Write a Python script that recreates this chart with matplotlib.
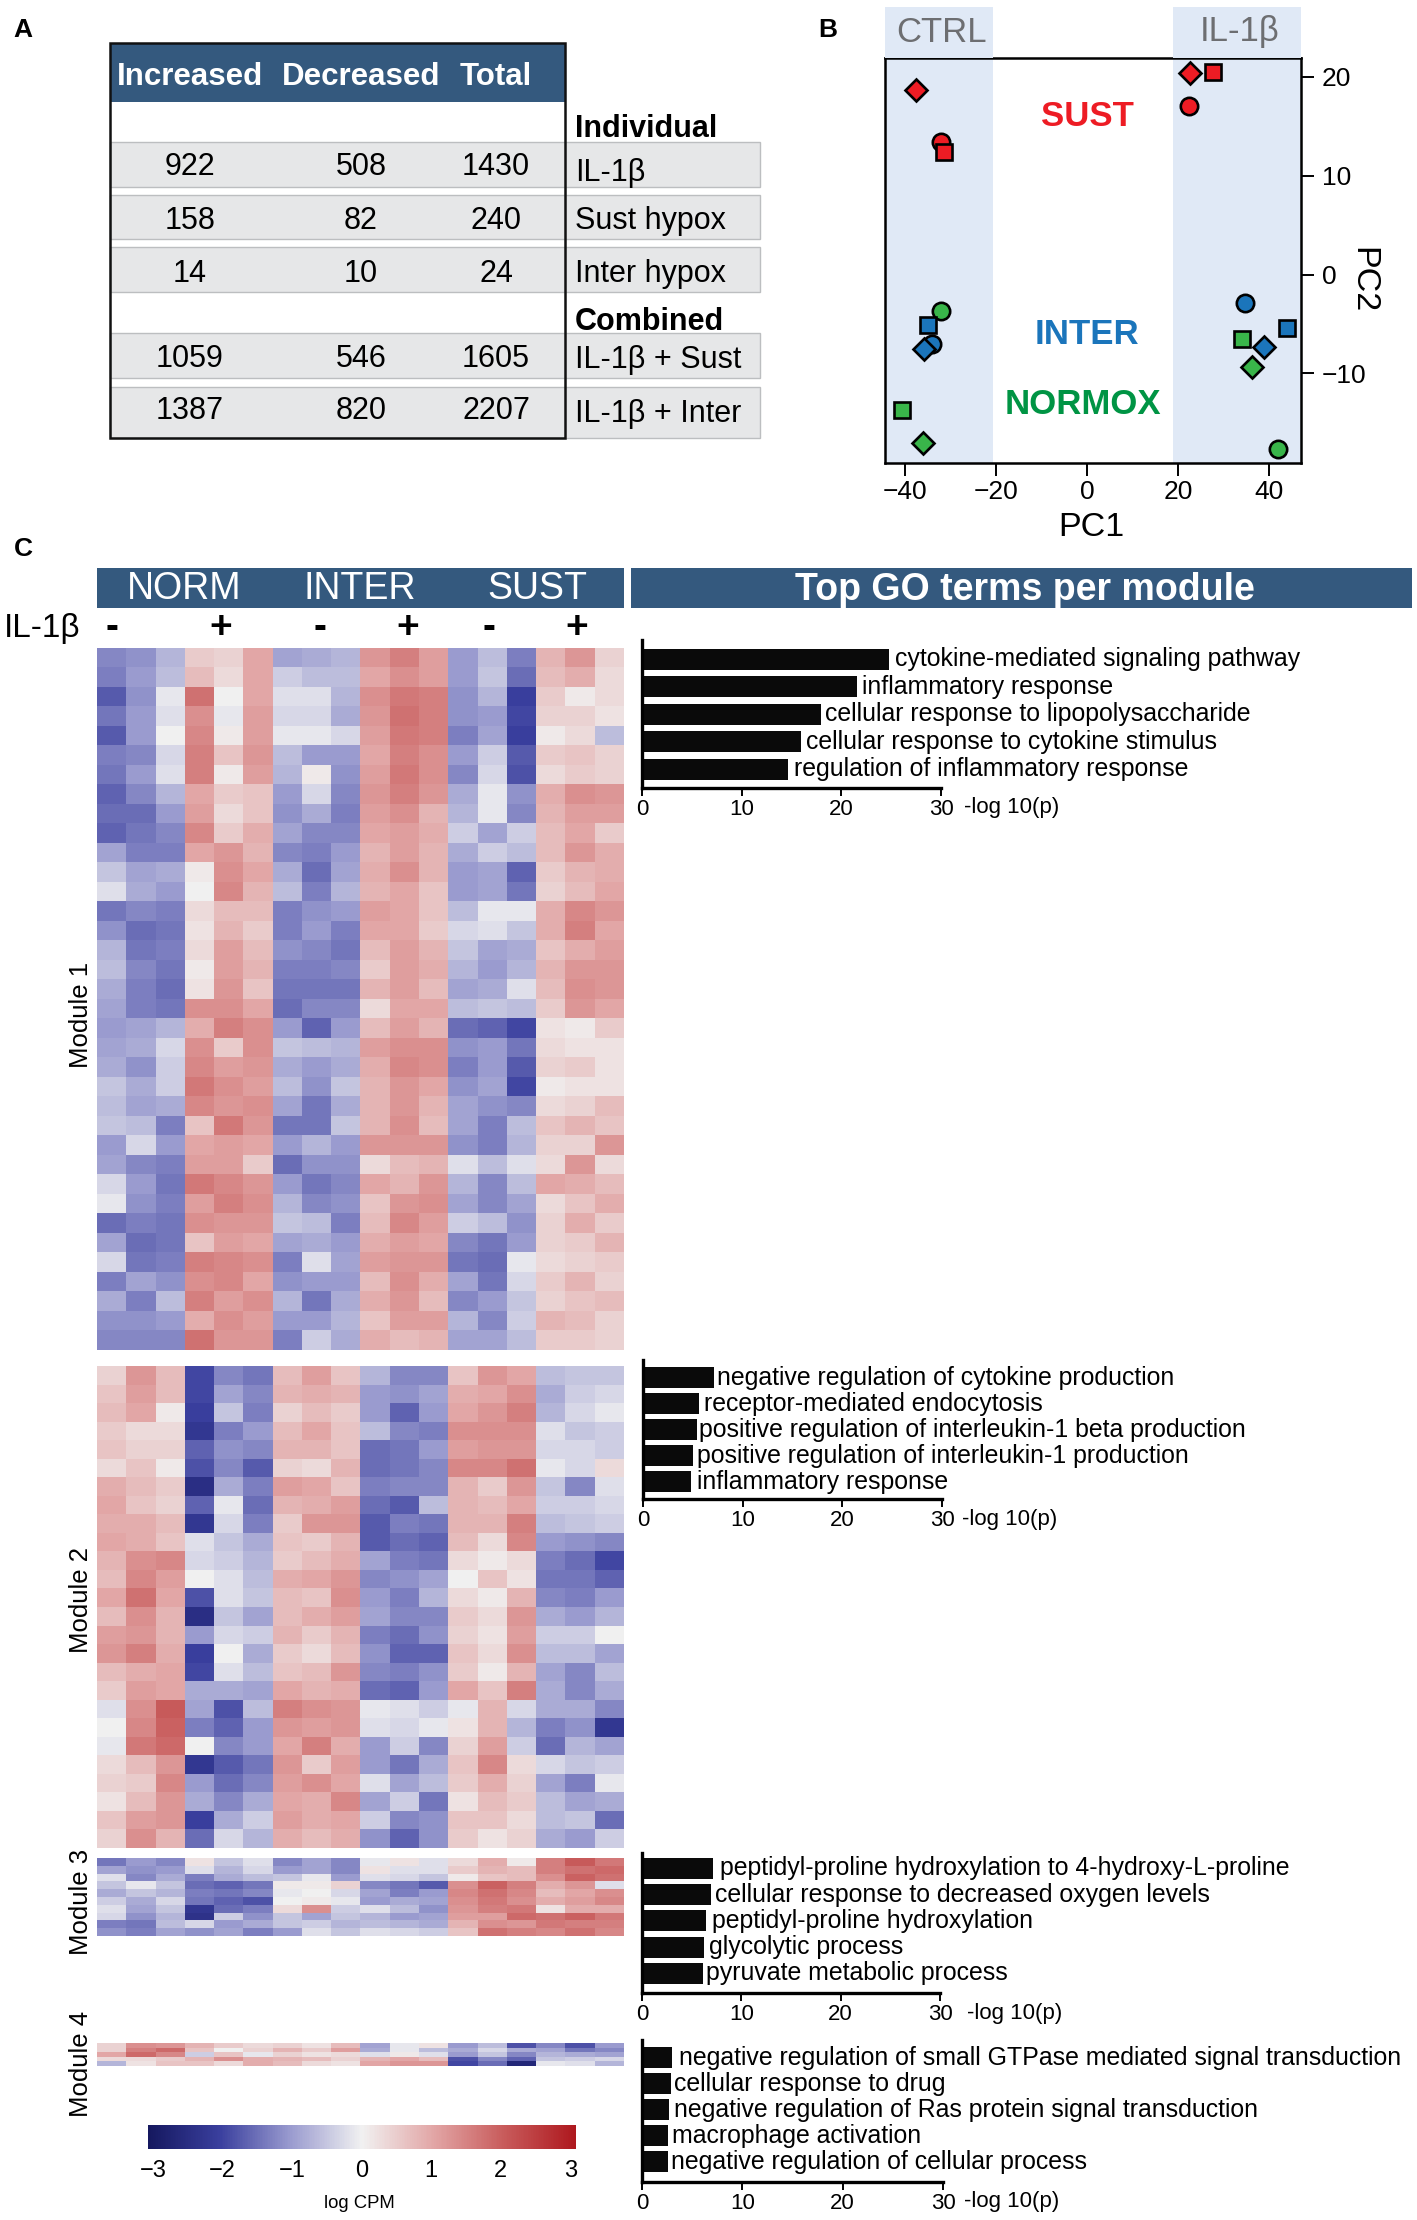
import matplotlib
matplotlib.use("Agg")
import numpy as np
import matplotlib.pyplot as plt
from matplotlib.patches import Rectangle
from matplotlib.colors import LinearSegmentedColormap, Normalize
from matplotlib.cm import ScalarMappable

plt.rcParams['font.family'] = ['Liberation Sans', 'DejaVu Sans']

W, H = 1417, 2220
NAVY = '#34597e'

# ---------- Panel A ----------
table_cols = ['Increased', 'Decreased', 'Total']
table_rows = ['IL-1β', 'Sust hypox', 'Inter hypox', 'IL-1β + Sust', 'IL-1β + Inter']
table_increased = [922, 158, 14, 1059, 1387]
table_decreased = [508, 82, 10, 546, 820]
table_total = [1430, 240, 24, 1605, 2207]

# ---------- Panel B ----------
sust_pc1 = [-37.5, -32.2, -31.4, 22.6, 27.6, 22.3]
sust_pc2 = [18.66, 13.36, 12.35, 20.4, 20.5, 17.0]
inter_pc1 = [-35.9, -34.1, -35.0, 38.9, 34.7, 44.0]
inter_pc2 = [-7.55, -7.0, -5.1, -7.3, -2.9, -5.4]
norm_pc1 = [-36.1, -32.0, -40.7, 36.2, 42.0, 34.0]
norm_pc2 = [-17.04, -3.65, -13.65, -9.35, -17.65, -6.5]
sust_mk = ['D', 'o', 's', 'D', 's', 'o']
inter_mk = ['D', 'o', 's', 'D', 'o', 's']
norm_mk = ['D', 'o', 's', 'D', 'o', 's']

# ---------- Panel C heat maps (log CPM, read by eye, band by band) ----------
module1 = [
 [-1.2,-1.1,-0.7, 0.5, 0.4, 1.0,-0.9,-0.8,-0.7, 1.2, 1.5, 1.1,-1.0,-0.6,-1.3, 0.8, 1.2, 0.4],
 [-1.3,-1.0,-0.6, 0.7, 0.3, 1.0,-0.4,-0.6,-0.6, 1.0, 1.3, 1.1,-1.0,-0.5,-1.5, 0.7, 0.9, 0.3],
 [-1.7,-1.1,-0.1, 1.7, 0.0, 1.0,-0.2,-0.2,-0.7, 1.3, 1.6, 1.5,-1.1,-0.7,-2.0, 0.5, 0.1, 0.3],
 [-1.4,-1.0,-0.2, 1.3,-0.1, 1.1,-0.3,-0.3,-0.8, 1.2, 1.7, 1.5,-1.1,-1.0,-1.9, 0.4, 0.4, 0.2],
 [-1.7,-1.0, 0.0, 1.4, 0.1, 1.1,-0.1,-0.1,-0.3, 1.1, 1.6, 1.5,-1.3,-0.9,-2.0, 0.1, 0.3,-0.6],
 [-1.3,-1.2,-0.3, 1.5, 0.6, 1.2,-0.6,-1.0,-1.0, 1.0, 1.5, 1.3,-1.0,-0.4,-1.7, 0.5, 0.6, 0.4],
 [-1.4,-1.0,-0.2, 1.5, 0.1, 1.1,-0.7, 0.1,-1.1, 1.1, 1.6, 1.3,-1.2,-0.3,-1.8, 0.3, 0.5, 0.4],
 [-1.6,-1.2,-0.7, 1.0, 0.5, 0.6,-1.0,-0.3,-1.2, 1.2, 1.5, 1.2,-0.8,-0.1,-1.1, 0.9, 1.3, 1.2],
 [-1.5,-1.5,-1.0, 1.1, 0.3, 0.6,-1.1,-0.8,-1.3, 1.1, 1.3, 0.8,-0.7,-0.1,-1.2, 0.8, 1.1, 1.1],
 [-1.6,-1.4,-1.2, 1.4, 0.5, 0.9,-0.9,-1.2,-1.2, 1.0, 1.1, 0.9,-0.4,-0.9,-0.4, 0.7, 1.0, 0.5],
 [-0.9,-1.3,-1.3, 1.0, 1.2, 0.8,-1.2,-1.3,-1.0, 0.8, 1.1, 0.8,-0.8,-0.4,-0.6, 0.7, 1.2, 0.9],
 [-0.5,-0.9,-0.8, 0.1, 1.3, 1.0,-0.8,-1.5,-0.9, 0.9, 1.3, 0.8,-1.0,-0.9,-1.6, 0.5, 0.8, 0.9],
 [-0.2,-0.8,-1.0, 0.0, 1.4, 0.8,-0.6,-1.3,-0.7, 0.8, 1.0, 0.6,-1.0,-0.9,-1.4, 0.4, 0.7, 1.0],
 [-1.4,-1.2,-1.3, 0.3, 0.7, 0.7,-1.3,-1.1,-1.0, 1.1, 1.0, 0.6,-0.6,-0.1,-0.1, 0.9, 1.4, 1.2],
 [-1.1,-1.5,-1.4, 0.2, 0.8, 0.5,-1.3,-1.0,-1.3, 1.0, 1.0, 0.5,-0.3,-0.2,-0.5, 0.9, 1.5, 1.0],
 [-0.7,-1.4,-1.3, 0.3, 1.1, 0.7,-1.1,-1.2,-1.4, 0.7, 1.1, 0.8,-0.5,-0.9,-0.8, 0.6, 0.9, 1.1],
 [-0.6,-1.2,-1.4, 0.1, 1.1, 0.8,-1.3,-1.3,-1.2, 0.5, 1.1, 0.9,-0.7,-1.0,-0.7, 0.8, 1.2, 1.2],
 [-0.8,-1.3,-1.5, 0.2, 1.2, 0.6,-1.4,-1.4,-1.4, 0.8, 1.1, 0.7,-0.9,-0.8,-0.2, 0.7, 1.3, 1.2],
 [-0.9,-1.3,-1.4, 1.3, 1.3, 1.0,-1.5,-1.2,-1.2, 0.3, 1.0, 1.0,-0.6,-0.5,-0.6, 0.5, 1.2, 1.0],
 [-1.0,-0.9,-0.7, 0.9, 1.5, 1.3,-1.0,-1.6,-1.0, 0.7, 1.1, 0.8,-1.5,-1.6,-1.9, 0.2, 0.1, 0.5],
 [-0.9,-0.8,-0.3, 1.3, 0.5, 1.3,-0.5,-0.6,-0.7, 1.1, 1.3, 1.3,-1.1,-1.0,-1.4, 0.3, 0.2, 0.2],
 [-0.8,-1.1,-0.4, 1.4, 1.1, 1.2,-0.8,-1.0,-0.8, 0.9, 1.4, 1.3,-1.3,-1.0,-1.7, 0.4, 0.5, 0.2],
 [-0.5,-0.8,-0.4, 1.6, 1.3, 1.1,-0.6,-1.1,-0.5, 0.8, 1.2, 1.0,-1.1,-0.9,-1.9, 0.1, 0.2, 0.2],
 [-0.6,-0.9,-0.8, 1.4, 1.2, 1.3,-0.9,-1.4,-0.8, 0.8, 1.2, 0.8,-0.9,-1.1,-1.2, 0.3, 0.4, 0.7],
 [-0.5,-0.6,-1.3, 0.6, 1.6, 1.2,-1.4,-1.4,-0.5, 0.8, 1.3, 0.7,-0.9,-1.3,-0.6, 0.6, 0.8, 0.6],
 [-1.0,-0.3,-1.0, 1.0, 1.1, 1.0,-1.0,-0.7,-1.0, 1.2, 1.2, 1.2,-1.1,-1.3,-0.7, 0.4, 0.4, 1.2],
 [-0.9,-1.2,-1.3, 1.1, 1.1, 0.5,-1.5,-1.1,-1.1, 0.3, 0.7, 0.8,-0.2,-0.6,-0.2, 0.3, 1.2, 0.3],
 [-0.3,-1.0,-1.4, 1.6, 1.4, 1.2,-1.0,-1.4,-1.2, 1.0, 0.8, 1.2,-0.7,-1.2,-0.6, 1.0, 0.9, 0.7],
 [-0.1,-1.1,-1.3, 1.1, 1.5, 1.3,-0.7,-1.2,-1.1, 0.6, 1.2, 1.3,-0.9,-1.2,-0.9, 0.3, 0.6, 0.9],
 [-1.5,-1.3,-1.4, 1.3, 1.2, 1.2,-0.5,-0.6,-1.3, 0.7, 1.4, 1.1,-0.4,-0.6,-1.1, 0.4, 0.9, 0.5],
 [-0.9,-1.5,-1.4, 0.6, 1.1, 1.0,-0.9,-0.8,-1.0, 0.9, 1.1, 1.0,-1.2,-1.4,-1.0, 0.4, 0.5, 0.8],
 [-0.3,-1.4,-1.3, 1.5, 1.4, 1.3,-1.3,-0.2,-0.9, 1.1, 1.2, 1.2,-1.4,-1.5,-0.1, 0.3, 0.4, 0.5],
 [-1.3,-0.9,-1.1, 1.3, 1.4, 1.0,-1.1,-1.0,-1.0, 0.7, 1.3, 0.9,-0.9,-1.4,-0.3, 0.5, 0.8, 0.4],
 [-0.8,-1.3,-0.6, 1.5, 1.1, 1.3,-0.7,-1.4,-0.8, 0.9, 1.2, 0.7,-1.2,-1.0,-0.5, 0.4, 0.6, 0.7],
 [-1.1,-1.1,-1.0, 0.9, 1.3, 1.1,-1.0,-1.0,-0.7, 0.6, 1.1, 1.1,-0.7,-1.2,-0.4, 0.8, 0.7, 0.4],
 [-1.2,-1.2,-1.2, 1.7, 1.2, 1.2,-1.3,-0.4,-0.8, 0.9, 0.7, 0.8,-0.9,-0.9,-0.6, 0.5, 0.5, 0.4],
]
module2 = [
 [ 0.4, 1.2, 0.7,-1.9,-1.2,-1.4, 0.7, 1.1, 0.6,-0.7,-1.2,-1.2, 0.6, 1.2, 1.0,-0.6,-0.5,-0.5],
 [ 0.6, 1.1, 0.7,-1.9,-0.9,-1.2, 0.8, 0.9, 0.8,-1.0,-1.1,-0.9, 0.9, 1.0, 1.3,-0.8,-0.4,-0.3],
 [ 0.7, 1.0, 0.1,-2.0,-0.5,-1.3, 0.4, 0.7, 0.5,-1.0,-1.6,-1.0, 1.0, 1.2, 1.5,-0.7,-0.3,-0.1],
 [ 0.5, 0.3, 0.3,-2.2,-1.3,-1.0, 0.7, 1.0, 0.6,-0.6,-1.2,-1.3, 1.3, 1.3, 1.3,-0.2,-0.5,-0.4],
 [ 0.6, 0.4, 0.4,-1.6,-1.1,-1.2, 0.8, 0.8, 0.6,-1.5,-1.4,-1.0, 1.1, 1.2, 1.2,-0.3,-0.3,-0.4],
 [ 0.3, 0.6, 0.1,-1.8,-1.2,-1.7, 0.4, 0.3, 0.8,-1.5,-1.4,-1.2, 1.4, 1.4, 1.7,-0.1,-0.3, 0.3],
 [ 0.9, 0.7, 0.5,-2.4,-0.8,-1.3, 1.1, 1.0, 0.6,-1.3,-1.2,-1.2, 0.8, 0.5, 1.2,-0.5,-1.2,-0.2],
 [ 1.0, 0.6, 0.4,-1.6,-0.1,-1.5, 0.8, 0.9, 1.1,-1.5,-1.7,-0.6, 0.8, 0.7, 1.0,-0.4,-0.4,-0.3],
 [ 0.9, 0.9, 0.7,-2.2,-0.3,-1.3, 0.5, 1.2, 1.2,-1.7,-1.3,-1.4, 0.8, 0.8, 1.5,-0.6,-0.5,-0.4],
 [ 1.0, 0.9, 0.6,-0.2,-0.5,-0.8, 0.6, 0.5, 0.8,-1.7,-1.5,-1.6, 0.7, 0.3, 1.4,-1.0,-1.1,-1.2],
 [ 0.8, 1.3, 1.4,-0.3,-0.4,-0.7, 0.5, 0.7, 0.9,-0.9,-1.3,-1.4, 0.3, 0.1, 0.3,-1.3,-1.5,-1.9],
 [ 0.7, 1.4, 1.1, 0.0,-0.2,-0.6, 0.9, 1.0, 1.2,-1.2,-1.1,-0.9, 0.0, 0.6, 0.2,-1.4,-1.4,-1.6],
 [ 1.0, 1.7, 1.0,-1.8,-0.2,-0.5, 0.7, 0.6, 1.3,-1.0,-1.3,-0.7, 0.3, 0.1, 0.8,-1.2,-1.3,-1.0],
 [ 0.7, 1.3, 0.8,-2.4,-0.5,-0.9, 0.7, 0.9, 1.1,-0.9,-1.2,-1.2, 0.5, 0.3, 1.2,-0.8,-1.0,-0.7],
 [ 1.1, 1.2, 0.8,-1.0,-0.3,-0.4, 0.8, 0.5, 0.8,-1.3,-1.5,-1.1, 0.4, 0.2, 1.1,-0.4,-0.4, 0.0],
 [ 1.2, 1.5, 0.9,-2.0, 0.0,-0.8, 0.5, 0.3, 0.7,-1.1,-1.6,-1.6, 0.6, 0.3, 1.3,-0.6,-0.6,-0.9],
 [ 0.7, 0.9, 1.0,-1.9,-0.2,-0.6, 0.6, 0.7, 1.2,-1.2,-1.3,-1.1, 0.5, 0.1, 0.8,-0.9,-1.2,-0.6],
 [ 0.5, 1.1, 1.0,-0.8,-0.8,-0.9, 1.0, 0.8, 0.9,-1.5,-1.6,-1.0, 1.0, 0.6, 1.5,-0.8,-1.2,-0.8],
 [-0.2, 1.3, 2.0,-0.9,-1.8,-0.6, 1.5, 1.3, 1.2,-0.1,-0.2,-0.4,-0.1, 0.8,-0.3,-0.8,-0.8,-1.2],
 [ 0.0, 1.4, 1.9,-1.3,-1.6,-1.0, 1.2, 1.1, 1.2,-0.2,-0.3,-0.1, 0.2, 0.8,-0.7,-1.3,-1.1,-2.2],
 [-0.1, 1.6, 1.8, 0.0,-1.2,-1.0, 1.0, 1.5, 0.9,-1.0,-0.4,-1.2, 0.4, 1.1,-0.4,-1.5,-0.7,-0.9],
 [ 0.3, 0.7, 1.2,-2.2,-1.7,-1.4, 1.2, 0.5, 1.1,-1.0,-1.4,-0.8, 0.6, 1.4, 0.3,-0.3,-0.5,-0.4],
 [ 0.4, 0.5, 1.4,-1.0,-1.5,-1.2, 1.1, 1.3, 1.0,-0.2,-0.9,-0.6, 0.5, 0.9, 0.4,-0.9,-1.3,-0.1],
 [ 0.2, 0.7, 1.2,-0.8,-1.2,-0.8, 1.0, 0.9, 1.4,-0.9,-0.4,-1.4, 0.2, 0.7, 0.5,-0.6,-0.9,-0.8],
 [ 0.6, 1.1, 1.2,-2.0,-0.8,-0.4, 1.1, 0.9, 1.0,-0.4,-1.2,-1.1, 0.6, 0.6, 0.3,-0.6,-0.5,-1.5],
 [ 0.4, 1.3, 0.8,-1.5,-0.3,-0.7, 0.9, 0.7, 0.9,-1.1,-1.6,-1.1, 0.5, 0.2, 0.4,-0.8,-1.0,-0.4],
]
module3 = [
 [-1.4,-1.0,-1.2, 0.2,-0.5,-0.2,-1.2,-0.9,-1.2,-0.1, 0.2,-0.2, 0.3, 0.9, 0.1, 1.5, 2.0, 1.6],
 [-0.9,-1.1,-1.0,-0.2,-0.7,-0.3,-1.0,-0.9,-1.2, 0.2,-0.2,-0.2, 0.5, 0.8, 0.7, 1.5, 1.7, 1.8],
 [-0.2,-1.2,-0.8,-1.3,-0.8,-0.6,-0.5,-0.1,-1.0,-0.2,-0.3,-0.5, 0.1, 0.6, 0.7, 1.3, 1.9, 1.7],
 [-0.5,-0.1,-0.5,-1.5,-1.6,-1.4, 0.1, 0.1, 0.4,-1.2,-1.4,-1.7, 1.3, 1.9, 1.5, 0.9, 1.2,-0.2],
 [-0.8,-0.5,-0.7,-1.3,-1.4,-1.2,-0.1, 0.0,-0.3,-0.9,-1.3,-1.0, 1.4, 1.7, 1.4, 0.7, 1.0, 1.3],
 [-0.4,-0.8,-0.3,-1.4,-1.6,-1.8, 0.0, 0.1,-0.1,-1.0,-0.8,-0.9, 1.3, 1.6, 1.3, 0.9, 1.1, 1.4],
 [-0.2,-0.9,-0.5,-2.2,-1.5,-1.3, 0.3, 1.3,-0.4,-0.2,-0.6,-1.1, 1.2, 1.5, 1.6, 0.2, 0.9, 0.9],
 [-0.3,-1.1,-0.7,-2.3,-0.4,-1.1,-0.5,-0.9,-0.5,-0.7,-1.0,-0.9, 1.1, 1.1, 1.8, 1.7, 1.9, 1.6],
 [-1.3,-1.4,-0.6,-0.3,-1.0,-0.8,-0.5,-0.4,-0.7,-0.6,-0.7,-0.8, 0.8, 1.3, 1.2, 1.6, 1.5, 1.5],
 [-1.1,-1.3,-0.9,-1.1,-0.9,-1.3,-1.0,-0.2,-0.5,-0.2,-0.3,-0.4, 0.6, 1.7, 1.5, 1.4, 1.7, 1.4],
]
module4 = [
 [ 0.4, 1.3, 1.2, 0.8, 0.5, 0.3, 0.4, 0.2, 0.7,-0.9,-0.1, 0.2,-1.0,-0.6,-1.8,-1.2,-1.8,-1.0],
 [ 0.4, 1.5, 1.8, 0.6, 0.0, 0.4, 0.8, 0.5, 1.1,-0.8,-0.1,-0.6,-0.8,-0.3,-0.8,-0.9,-1.4,-1.2],
 [ 1.0, 1.8, 1.4,-0.4, 0.6,-0.1, 0.4, 0.2, 0.3,-0.2, 0.1,-0.2,-1.0,-0.5,-1.2,-0.7,-0.8,-0.9],
 [ 0.3, 0.3, 0.5, 0.8, 1.3, 0.9, 0.8, 0.7, 0.4, 0.8, 1.0, 0.7,-1.8,-1.2,-1.6,-0.5,-0.4,-0.3],
 [-0.7, 0.2, 0.6, 0.6, 0.3, 0.9, 0.7, 0.3, 0.2, 1.0, 1.2, 1.2,-1.9,-1.5,-2.6,-0.1,-0.2,-0.7],
]

# ---------- Colour scale ----------
scale_ticks = [-3, -2, -1, 0, 1, 2, 3]

# ---------- GO terms ----------
go_terms_1 = ['cytokine-mediated signaling pathway', 'inflammatory response',
              'cellular response to lipopolysaccharide', 'cellular response to cytokine stimulus',
              'regulation of inflammatory response']
go_vals_1 = [24.8, 21.55, 17.95, 16.0, 14.6]
go_terms_2 = ['negative regulation of cytokine production', 'receptor-mediated endocytosis',
              'positive regulation of interleukin-1 beta production',
              'positive regulation of interleukin-1 production', 'inflammatory response']
go_vals_2 = [7.15, 5.64, 5.38, 5.03, 4.78]
go_terms_3 = ['peptidyl-proline hydroxylation to 4-hydroxy-L-proline',
              'cellular response to decreased oxygen levels', 'peptidyl-proline hydroxylation',
              'glycolytic process', 'pyruvate metabolic process']
go_vals_3 = [7.1, 6.95, 6.45, 6.2, 6.1]
go_terms_4 = ['negative regulation of small GTPase mediated signal transduction',
              'cellular response to drug', 'negative regulation of Ras protein signal transduction',
              'macrophage activation', 'negative regulation of cellular process']
go_vals_4 = [3.03, 2.88, 2.68, 2.63, 2.58]

# ---------- Figure helpers ----------
fig = plt.figure(figsize=(W / 100, H / 100), dpi=100)


def px_axes(x0, y0, x1, y1, **kw):
    return fig.add_axes([x0 / W, 1 - y1 / H, (x1 - x0) / W, (y1 - y0) / H], **kw)


ov = fig.add_axes([0, 0, 1, 1], zorder=5)
ov.set_xlim(0, W)
ov.set_ylim(H, 0)
ov.axis('off')
ov.patch.set_alpha(0)


def rect(x0, y0, x1, y1, **kw):
    ov.add_patch(Rectangle((x0, y0), x1 - x0, y1 - y0, **kw))


def txt(x, y, s, size, ha='center', **kw):
    ov.text(x, y + 3, s, fontsize=size, ha=ha, va='center', **kw)


# ---------- Panel labels ----------
txt(23, 27, 'A', 19, weight='bold')
txt(828, 27, 'B', 19, weight='bold')
txt(23, 546, 'C', 19, weight='bold')

# ---------- Panel A drawing ----------
row_bands = [(142, 187), (195, 239), (247, 292), (333, 378), (387, 438)]
row_mid = [164, 218, 271, 356, 408]
label_mid = [170, 218, 271, 357, 411]
for (a, b) in row_bands:
    rect(110, a, 760, b, fc='#e6e7e8', ec='#bcbec0', lw=1)
rect(110, 43, 565, 102, fc=NAVY, ec='none')
rect(110, 43, 565, 438, fc='none', ec='#111111', lw=1.8, zorder=4)
for x, s in zip([190, 361, 496], table_cols):
    txt(x, 74, s, 22.5, color='white', weight='bold')
for i, y in enumerate(row_mid):
    txt(190, y, str(table_increased[i]), 22)
    txt(361, y, str(table_decreased[i]), 22)
    txt(496, y, str(table_total[i]), 22)
for y, s in zip(label_mid, table_rows):
    txt(575, y, s, 22, ha='left')
txt(575, 126, 'Individual', 22, ha='left', weight='bold')
txt(575, 319, 'Combined', 22, ha='left', weight='bold')

# ---------- Panel B drawing ----------
axb = px_axes(885, 58, 1301, 463)
axb.set_xlim(-44.4, 47.0)
axb.set_ylim(-19.06, 21.9)
BAND = '#e0e9f6'
axb.axvspan(-44.4, -20.7, color=BAND, lw=0, zorder=0)
axb.axvspan(18.9, 47.0, color=BAND, lw=0, zorder=0)
rect(885, 7, 993, 58, fc=BAND, ec='none', zorder=0)
rect(1173, 7, 1301, 58, fc=BAND, ec='none', zorder=0)
txt(942, 29, 'CTRL', 25, color='#6d6e71')
txt(1240, 29, 'IL-1β', 25, color='#6d6e71')
for xs, ys, mks, col in [(sust_pc1, sust_pc2, sust_mk, '#ed1c24'),
                         (inter_pc1, inter_pc2, inter_mk, '#1b75bb'),
                         (norm_pc1, norm_pc2, norm_mk, '#39b54a')]:
    for mk, ms, z in [('o', 12.5, 3), ('s', 11.5, 4), ('D', 11.5, 5)]:
        px_ = [x for x, m in zip(xs, mks) if m == mk]
        py_ = [y for y, m in zip(ys, mks) if m == mk]
        axb.plot(px_, py_, ls='none', marker=mk, ms=ms, mfc=col, mec='black', mew=1.9, zorder=z)
axb.text(0, 16.0, 'SUST', color='#ed1c24', fontsize=25, weight='bold', ha='center', va='center')
axb.text(0, -6.1, 'INTER', color='#1b75bb', fontsize=25, weight='bold', ha='center', va='center')
axb.text(-1, -13.1, 'NORMOX', color='#009444', fontsize=25, weight='bold', ha='center', va='center')
axb.set_xticks([-40, -20, 0, 20, 40])
axb.set_yticks([-10, 0, 10, 20])
axb.yaxis.tick_right()
axb.tick_params(axis='x', labelsize=19, length=9, width=1.4, pad=3)
axb.tick_params(axis='y', labelsize=19, length=9, width=1.4, pad=6)
axb.set_xticklabels(['−40', '−20', '0', '20', '40'])
axb.set_yticklabels(['−10', '0', '10', '20'])
for s in axb.spines.values():
    s.set_linewidth(1.8)
txt(1091, 525, 'PC1', 24.5)
txt(1363, 277, 'PC2', 24.5, rotation=-90)

# ---------- Panel C headers ----------
rect(97, 568, 624, 608, fc=NAVY, ec='none')
rect(631, 568, 1412, 608, fc=NAVY, ec='none')
txt(184, 586, 'NORM', 27, color='white')
txt(360, 586, 'INTER', 27, color='white')
txt(537, 586, 'SUST', 27, color='white')
txt(1025, 587, 'Top GO terms per module', 27, color='white', weight='bold')
txt(4, 626, 'IL-1β', 24, ha='left')
for x, s in zip([112, 221, 320, 408, 489, 577], '-+-+-+'):
    txt(x, 625, s, 28, weight='bold')

# ---------- Heat maps ----------
cmap = LinearSegmentedColormap.from_list('logcpm', [
    '#15185f', '#3a3f9e', '#9a9bcf', '#f1f1f1', '#e2a6a6', '#c85b5b', '#ae181e'])
norm = Normalize(-3, 3)
for data, (y0, y1) in [(module1, (648, 1350)), (module2, (1366, 1848)),
                       (module3, (1858, 1936)), (module4, (2043, 2066))]:
    a = px_axes(97, y0, 624, y1)
    a.imshow(np.array(data), cmap=cmap, norm=norm, aspect='auto', interpolation='nearest')
    a.axis('off')
for y, s in zip([1012, 1597, 1899, 2061], ['Module 1', 'Module 2', 'Module 3', 'Module 4']):
    txt(81, y, s, 18.5, rotation=90)

# ---------- Colour bar ----------
cax = px_axes(148, 2125, 576, 2149)
cb = fig.colorbar(ScalarMappable(Normalize(-3.07, 3.08), cmap), cax=cax, orientation='horizontal')
cb.set_ticks(scale_ticks)
cb.set_ticklabels(['−3', '−2', '−1', '0', '1', '2', '3'])
cax.tick_params(length=0, labelsize=17, pad=8)
cb.outline.set_visible(False)
txt(359, 2201, 'log CPM', 13.3)


# ---------- GO bars ----------
def go_panel(vals, terms, x0, x30, top, base, first, pitch, xlabel_x, offs):
    ax = px_axes(x0, top, x30, base)
    ax.set_xlim(0, 30)
    ax.set_ylim((base - first) / pitch, (top - first) / pitch)
    ax.barh(range(len(vals)), vals, height=21.0 / pitch, color='#0a0a0a')
    for i, (v, t) in enumerate(zip(vals, terms)):
        ax.annotate(t, (v, i), xytext=(offs[i] * 0.72, 0), textcoords='offset points',
                    fontsize=17.95, va='center', ha='left', annotation_clip=False)
    for s in ['top', 'right']:
        ax.spines[s].set_visible(False)
    for s in ['left', 'bottom']:
        ax.spines[s].set_linewidth(2.4)
    ax.patch.set_alpha(0)
    ax.set_yticks([])
    ax.set_xticks([0, 10, 20, 30])
    ax.tick_params(axis='x', labelsize=16, length=6, width=1.4, pad=2)
    txt(xlabel_x, base + 17, '-log 10(p)', 16, ha='left')


go_panel(go_vals_1, go_terms_1, 642, 941, 640, 788, 659.5, 27.5, 964, [5.5, 5, 4, 4.5, 6])
go_panel(go_vals_2, go_terms_2, 643, 942, 1360, 1499, 1377.5, 26, 962, [2.5, 5, 2.5, 3.5, 6])
go_panel(go_vals_3, go_terms_3, 642, 940, 1853, 1993, 1868.5, 26.2, 967, [7, 3.5, 5.5, 5, 3.5])
go_panel(go_vals_4, go_terms_4, 642, 943, 2040, 2182, 2057.5, 26, 964, [6.6, 3, 5, 4, 3.5])

fig.savefig('out.png', dpi=100, facecolor='white')
